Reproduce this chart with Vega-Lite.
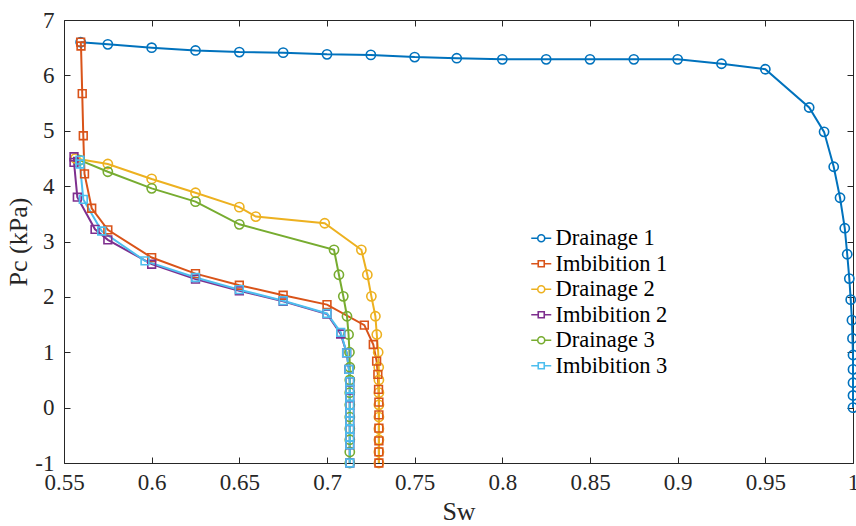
{
  "$schema": "https://vega.github.io/schema/vega-lite/v6.json",
  "width": 789,
  "height": 443,
  "autosize": {"type": "none"},
  "padding": {"left": 64, "top": 20, "right": 3, "bottom": 63},
  "background": "white",
  "config": {
    "view": {"stroke": null},
    "font": "Liberation Serif, Times New Roman, serif",
    "axis": {"grid": false, "domainColor": "#262626", "tickColor": "#262626", "labelColor": "#262626", "titleColor": "#262626", "labelFont": "Liberation Serif, Times New Roman, serif", "titleFont": "Liberation Serif, Times New Roman, serif", "labelFontSize": 23, "titleFontSize": 26, "titleFontWeight": "normal", "tickSize": -6, "domainWidth": 1, "tickWidth": 1},
    "legend": {"labelFont": "Liberation Serif, Times New Roman, serif"}
  },
  "data": {"values": [
    {"series":"Drainage 1","type":"D","i":1,"sw":0.5595,"pc":6.60},
    {"series":"Drainage 1","type":"D","i":2,"sw":0.575,"pc":6.56},
    {"series":"Drainage 1","type":"D","i":3,"sw":0.6,"pc":6.50},
    {"series":"Drainage 1","type":"D","i":4,"sw":0.625,"pc":6.45},
    {"series":"Drainage 1","type":"D","i":5,"sw":0.65,"pc":6.42},
    {"series":"Drainage 1","type":"D","i":6,"sw":0.675,"pc":6.41},
    {"series":"Drainage 1","type":"D","i":7,"sw":0.7,"pc":6.38},
    {"series":"Drainage 1","type":"D","i":8,"sw":0.725,"pc":6.37},
    {"series":"Drainage 1","type":"D","i":9,"sw":0.75,"pc":6.33},
    {"series":"Drainage 1","type":"D","i":10,"sw":0.774,"pc":6.31},
    {"series":"Drainage 1","type":"D","i":11,"sw":0.8,"pc":6.29},
    {"series":"Drainage 1","type":"D","i":12,"sw":0.825,"pc":6.29},
    {"series":"Drainage 1","type":"D","i":13,"sw":0.85,"pc":6.29},
    {"series":"Drainage 1","type":"D","i":14,"sw":0.875,"pc":6.29},
    {"series":"Drainage 1","type":"D","i":15,"sw":0.9,"pc":6.29},
    {"series":"Drainage 1","type":"D","i":16,"sw":0.925,"pc":6.21},
    {"series":"Drainage 1","type":"D","i":17,"sw":0.95,"pc":6.11},
    {"series":"Drainage 1","type":"D","i":18,"sw":0.975,"pc":5.42},
    {"series":"Drainage 1","type":"D","i":19,"sw":0.9835,"pc":4.98},
    {"series":"Drainage 1","type":"D","i":20,"sw":0.989,"pc":4.35},
    {"series":"Drainage 1","type":"D","i":21,"sw":0.9926,"pc":3.79},
    {"series":"Drainage 1","type":"D","i":22,"sw":0.9953,"pc":3.24},
    {"series":"Drainage 1","type":"D","i":23,"sw":0.9967,"pc":2.77},
    {"series":"Drainage 1","type":"D","i":24,"sw":0.9979,"pc":2.33},
    {"series":"Drainage 1","type":"D","i":25,"sw":0.9987,"pc":1.95},
    {"series":"Drainage 1","type":"D","i":26,"sw":0.9994,"pc":1.58},
    {"series":"Drainage 1","type":"D","i":27,"sw":0.9997,"pc":1.25},
    {"series":"Drainage 1","type":"D","i":28,"sw":1.0,"pc":0.95},
    {"series":"Drainage 1","type":"D","i":29,"sw":1.0,"pc":0.69},
    {"series":"Drainage 1","type":"D","i":30,"sw":1.0,"pc":0.45},
    {"series":"Drainage 1","type":"D","i":31,"sw":1.0,"pc":0.22},
    {"series":"Drainage 1","type":"D","i":32,"sw":1.0,"pc":0.0},

    {"series":"Imbibition 1","type":"I","i":1,"sw":0.5595,"pc":6.60},
    {"series":"Imbibition 1","type":"I","i":2,"sw":0.5597,"pc":6.53},
    {"series":"Imbibition 1","type":"I","i":3,"sw":0.5604,"pc":5.67},
    {"series":"Imbibition 1","type":"I","i":4,"sw":0.561,"pc":4.91},
    {"series":"Imbibition 1","type":"I","i":5,"sw":0.5617,"pc":4.22},
    {"series":"Imbibition 1","type":"I","i":6,"sw":0.5658,"pc":3.60},
    {"series":"Imbibition 1","type":"I","i":7,"sw":0.575,"pc":3.21},
    {"series":"Imbibition 1","type":"I","i":8,"sw":0.6,"pc":2.71},
    {"series":"Imbibition 1","type":"I","i":9,"sw":0.625,"pc":2.42},
    {"series":"Imbibition 1","type":"I","i":10,"sw":0.65,"pc":2.21},
    {"series":"Imbibition 1","type":"I","i":11,"sw":0.675,"pc":2.03},
    {"series":"Imbibition 1","type":"I","i":12,"sw":0.7,"pc":1.86},
    {"series":"Imbibition 1","type":"I","i":13,"sw":0.7213,"pc":1.49},
    {"series":"Imbibition 1","type":"I","i":14,"sw":0.7264,"pc":1.14},
    {"series":"Imbibition 1","type":"I","i":15,"sw":0.7283,"pc":0.84},
    {"series":"Imbibition 1","type":"I","i":16,"sw":0.729,"pc":0.6},
    {"series":"Imbibition 1","type":"I","i":17,"sw":0.7294,"pc":0.33},
    {"series":"Imbibition 1","type":"I","i":18,"sw":0.7296,"pc":0.1},
    {"series":"Imbibition 1","type":"I","i":19,"sw":0.7296,"pc":-0.13},
    {"series":"Imbibition 1","type":"I","i":20,"sw":0.7296,"pc":-0.37},
    {"series":"Imbibition 1","type":"I","i":21,"sw":0.7296,"pc":-0.6},
    {"series":"Imbibition 1","type":"I","i":22,"sw":0.7296,"pc":-0.8},
    {"series":"Imbibition 1","type":"I","i":23,"sw":0.7296,"pc":-1.0},

    {"series":"Drainage 2","type":"D","i":1,"sw":0.5565,"pc":4.50},
    {"series":"Drainage 2","type":"D","i":2,"sw":0.575,"pc":4.40},
    {"series":"Drainage 2","type":"D","i":3,"sw":0.6,"pc":4.13},
    {"series":"Drainage 2","type":"D","i":4,"sw":0.625,"pc":3.88},
    {"series":"Drainage 2","type":"D","i":5,"sw":0.65,"pc":3.62},
    {"series":"Drainage 2","type":"D","i":6,"sw":0.6594,"pc":3.45},
    {"series":"Drainage 2","type":"D","i":7,"sw":0.6987,"pc":3.33},
    {"series":"Drainage 2","type":"D","i":8,"sw":0.7196,"pc":2.85},
    {"series":"Drainage 2","type":"D","i":9,"sw":0.723,"pc":2.40},
    {"series":"Drainage 2","type":"D","i":10,"sw":0.7253,"pc":2.01},
    {"series":"Drainage 2","type":"D","i":11,"sw":0.7276,"pc":1.65},
    {"series":"Drainage 2","type":"D","i":12,"sw":0.7284,"pc":1.32},
    {"series":"Drainage 2","type":"D","i":13,"sw":0.7292,"pc":1.0},
    {"series":"Drainage 2","type":"D","i":14,"sw":0.7295,"pc":0.73},
    {"series":"Drainage 2","type":"D","i":15,"sw":0.7296,"pc":0.5},
    {"series":"Drainage 2","type":"D","i":16,"sw":0.7296,"pc":0.27},
    {"series":"Drainage 2","type":"D","i":17,"sw":0.7296,"pc":0.05},
    {"series":"Drainage 2","type":"D","i":18,"sw":0.7296,"pc":-0.17},
    {"series":"Drainage 2","type":"D","i":19,"sw":0.7296,"pc":-0.38},
    {"series":"Drainage 2","type":"D","i":20,"sw":0.7296,"pc":-0.58},
    {"series":"Drainage 2","type":"D","i":21,"sw":0.7296,"pc":-0.8},
    {"series":"Drainage 2","type":"D","i":22,"sw":0.7296,"pc":-1.0},

    {"series":"Imbibition 2","type":"I","i":1,"sw":0.5557,"pc":4.53},
    {"series":"Imbibition 2","type":"I","i":2,"sw":0.5557,"pc":4.43},
    {"series":"Imbibition 2","type":"I","i":3,"sw":0.5576,"pc":3.80},
    {"series":"Imbibition 2","type":"I","i":4,"sw":0.5677,"pc":3.22},
    {"series":"Imbibition 2","type":"I","i":5,"sw":0.575,"pc":3.03},
    {"series":"Imbibition 2","type":"I","i":6,"sw":0.6,"pc":2.59},
    {"series":"Imbibition 2","type":"I","i":7,"sw":0.625,"pc":2.32},
    {"series":"Imbibition 2","type":"I","i":8,"sw":0.65,"pc":2.11},
    {"series":"Imbibition 2","type":"I","i":9,"sw":0.675,"pc":1.92},
    {"series":"Imbibition 2","type":"I","i":10,"sw":0.7,"pc":1.69},
    {"series":"Imbibition 2","type":"I","i":11,"sw":0.7078,"pc":1.33},
    {"series":"Imbibition 2","type":"I","i":12,"sw":0.7112,"pc":0.99},
    {"series":"Imbibition 2","type":"I","i":13,"sw":0.7125,"pc":0.69},
    {"series":"Imbibition 2","type":"I","i":14,"sw":0.713,"pc":0.47},
    {"series":"Imbibition 2","type":"I","i":15,"sw":0.713,"pc":0.32},
    {"series":"Imbibition 2","type":"I","i":16,"sw":0.713,"pc":0.18},
    {"series":"Imbibition 2","type":"I","i":17,"sw":0.713,"pc":0.04},
    {"series":"Imbibition 2","type":"I","i":18,"sw":0.713,"pc":-0.1},
    {"series":"Imbibition 2","type":"I","i":19,"sw":0.713,"pc":-0.24},
    {"series":"Imbibition 2","type":"I","i":20,"sw":0.713,"pc":-0.39},
    {"series":"Imbibition 2","type":"I","i":21,"sw":0.713,"pc":-0.53},
    {"series":"Imbibition 2","type":"I","i":22,"sw":0.713,"pc":-0.67},
    {"series":"Imbibition 2","type":"I","i":23,"sw":0.713,"pc":-1.0},

    {"series":"Drainage 3","type":"D","i":1,"sw":0.559,"pc":4.47},
    {"series":"Drainage 3","type":"D","i":2,"sw":0.575,"pc":4.26},
    {"series":"Drainage 3","type":"D","i":3,"sw":0.6,"pc":3.96},
    {"series":"Drainage 3","type":"D","i":4,"sw":0.625,"pc":3.72},
    {"series":"Drainage 3","type":"D","i":5,"sw":0.65,"pc":3.31},
    {"series":"Drainage 3","type":"D","i":6,"sw":0.704,"pc":2.85},
    {"series":"Drainage 3","type":"D","i":7,"sw":0.7068,"pc":2.40},
    {"series":"Drainage 3","type":"D","i":8,"sw":0.7093,"pc":2.01},
    {"series":"Drainage 3","type":"D","i":9,"sw":0.7114,"pc":1.65},
    {"series":"Drainage 3","type":"D","i":10,"sw":0.7123,"pc":1.32},
    {"series":"Drainage 3","type":"D","i":11,"sw":0.7128,"pc":1.0},
    {"series":"Drainage 3","type":"D","i":12,"sw":0.713,"pc":0.73},
    {"series":"Drainage 3","type":"D","i":13,"sw":0.713,"pc":0.5},
    {"series":"Drainage 3","type":"D","i":14,"sw":0.713,"pc":0.27},
    {"series":"Drainage 3","type":"D","i":15,"sw":0.713,"pc":0.05},
    {"series":"Drainage 3","type":"D","i":16,"sw":0.713,"pc":-0.17},
    {"series":"Drainage 3","type":"D","i":17,"sw":0.713,"pc":-0.38},
    {"series":"Drainage 3","type":"D","i":18,"sw":0.713,"pc":-0.58},
    {"series":"Drainage 3","type":"D","i":19,"sw":0.713,"pc":-0.8},
    {"series":"Drainage 3","type":"D","i":20,"sw":0.713,"pc":-1.0},

    {"series":"Imbibition 3","type":"I","i":1,"sw":0.5591,"pc":4.47},
    {"series":"Imbibition 3","type":"I","i":2,"sw":0.5591,"pc":4.40},
    {"series":"Imbibition 3","type":"I","i":3,"sw":0.561,"pc":3.76},
    {"series":"Imbibition 3","type":"I","i":4,"sw":0.5715,"pc":3.19},
    {"series":"Imbibition 3","type":"I","i":5,"sw":0.5962,"pc":2.65},
    {"series":"Imbibition 3","type":"I","i":6,"sw":0.625,"pc":2.35},
    {"series":"Imbibition 3","type":"I","i":7,"sw":0.65,"pc":2.13},
    {"series":"Imbibition 3","type":"I","i":8,"sw":0.675,"pc":1.93},
    {"series":"Imbibition 3","type":"I","i":9,"sw":0.7,"pc":1.70},
    {"series":"Imbibition 3","type":"I","i":10,"sw":0.7078,"pc":1.36},
    {"series":"Imbibition 3","type":"I","i":11,"sw":0.7112,"pc":0.99},
    {"series":"Imbibition 3","type":"I","i":12,"sw":0.7125,"pc":0.69},
    {"series":"Imbibition 3","type":"I","i":13,"sw":0.713,"pc":0.47},
    {"series":"Imbibition 3","type":"I","i":14,"sw":0.713,"pc":0.33},
    {"series":"Imbibition 3","type":"I","i":15,"sw":0.713,"pc":0.2},
    {"series":"Imbibition 3","type":"I","i":16,"sw":0.713,"pc":0.05},
    {"series":"Imbibition 3","type":"I","i":17,"sw":0.713,"pc":-0.1},
    {"series":"Imbibition 3","type":"I","i":18,"sw":0.713,"pc":-0.24},
    {"series":"Imbibition 3","type":"I","i":19,"sw":0.713,"pc":-0.39},
    {"series":"Imbibition 3","type":"I","i":20,"sw":0.713,"pc":-0.53},
    {"series":"Imbibition 3","type":"I","i":21,"sw":0.713,"pc":-0.67},
    {"series":"Imbibition 3","type":"I","i":22,"sw":0.713,"pc":-1.0}
  ]},
  "resolve": {"axis": {"x": "independent", "y": "independent"}, "legend": {"color": "independent", "shape": "independent"}},
  "layer": [
    {
      "mark": {"type": "line", "strokeWidth": 2},
      "encoding": {
        "x": {"field": "sw", "type": "quantitative", "scale": {"domain": [0.55, 1], "nice": false, "zero": false},
              "axis": {"orient": "bottom", "title": "Sw", "values": [0.55,0.6,0.65,0.7,0.75,0.8,0.85,0.9,0.95,1], "labelExpr": "'' + datum.value", "labelFont": "Liberation Serif, Times New Roman, serif", "titleFont": "Liberation Serif, Times New Roman, serif", "labelPadding": 14, "titlePadding": 4, "labelFlush": false}},
        "y": {"field": "pc", "type": "quantitative", "scale": {"domain": [-1, 7], "nice": false, "zero": false},
              "axis": {"orient": "left", "title": "Pc (kPa)", "values": [-1,0,1,2,3,4,5,6,7], "labelExpr": "'' + datum.value", "labelFont": "Liberation Serif, Times New Roman, serif", "titleFont": "Liberation Serif, Times New Roman, serif", "labelPadding": 16, "titlePadding": 3, "labelFlush": false}},
        "color": {"field": "series", "type": "nominal",
                  "scale": {"domain": ["Drainage 1","Imbibition 1","Drainage 2","Imbibition 2","Drainage 3","Imbibition 3"], "range": ["#0072BD","#D95319","#EDB120","#7E2F8E","#77AC30","#4DBEEE"]},
                  "legend": null},
        "order": {"field": "i", "type": "quantitative"}
      }
    },
    {
      "transform": [{"filter": {"field": "type", "equal": "D"}}],
      "mark": {"type": "point", "shape": "circle", "filled": false, "size": 85, "strokeWidth": 1.6, "opacity": 1},
      "encoding": {
        "x": {"field": "sw", "type": "quantitative", "axis": null},
        "y": {"field": "pc", "type": "quantitative", "axis": null},
        "color": {"field": "series", "type": "nominal", "legend": null}
      }
    },
    {
      "transform": [{"filter": {"field": "type", "equal": "I"}}],
      "mark": {"type": "point", "shape": "square", "filled": false, "size": 60, "strokeWidth": 1.6, "opacity": 1},
      "encoding": {
        "x": {"field": "sw", "type": "quantitative", "axis": null},
        "y": {"field": "pc", "type": "quantitative", "axis": null},
        "color": {"field": "series", "type": "nominal", "legend": null}
      }
    },
    {
      "transform": [{"filter": {"field": "type", "equal": "none"}}],
      "mark": {"type": "point", "filled": false, "strokeWidth": 1.6, "opacity": 1},
      "encoding": {
        "x": {"field": "sw", "type": "quantitative", "axis": {"orient": "top", "title": null, "labels": false, "values": [0.55,0.6,0.65,0.7,0.75,0.8,0.85,0.9,0.95,1]}},
        "y": {"field": "pc", "type": "quantitative", "axis": {"orient": "right", "title": null, "labels": false, "values": [-1,0,1,2,3,4,5,6,7]}},
        "color": {"field": "series", "type": "nominal",
                  "legend": {"orient": "none", "legendX": 466, "legendY": 207, "title": null, "labelFont": "Liberation Serif, Times New Roman, serif", "labelFontSize": 22.5, "labelColor": "#000000", "symbolSize": 400, "symbolStrokeWidth": 1.6, "labelOffset": 3, "rowPadding": 2.5}},
        "shape": {"field": "series", "type": "nominal",
                  "scale": {"domain": ["Drainage 1","Imbibition 1","Drainage 2","Imbibition 2","Drainage 3","Imbibition 3"],
                            "range": ["M-1,0L-0.35,0M0.35,0L1,0M-0.35,0A0.35,0.35,0,1,1,0.35,0A0.35,0.35,0,1,1,-0.35,0",
                                      "M-1,0L-0.3,0M0.3,0L1,0M-0.3,-0.3L0.3,-0.3L0.3,0.3L-0.3,0.3Z",
                                      "M-1,0L-0.35,0M0.35,0L1,0M-0.35,0A0.35,0.35,0,1,1,0.35,0A0.35,0.35,0,1,1,-0.35,0",
                                      "M-1,0L-0.3,0M0.3,0L1,0M-0.3,-0.3L0.3,-0.3L0.3,0.3L-0.3,0.3Z",
                                      "M-1,0L-0.35,0M0.35,0L1,0M-0.35,0A0.35,0.35,0,1,1,0.35,0A0.35,0.35,0,1,1,-0.35,0",
                                      "M-1,0L-0.3,0M0.3,0L1,0M-0.3,-0.3L0.3,-0.3L0.3,0.3L-0.3,0.3Z"]},
                  "legend": {"orient": "none", "legendX": 466, "legendY": 207, "title": null, "labelFont": "Liberation Serif, Times New Roman, serif", "labelFontSize": 22.5, "labelColor": "#000000", "symbolSize": 400, "symbolStrokeWidth": 1.6, "labelOffset": 3, "rowPadding": 2.5}}
      }
    }
  ]
}
